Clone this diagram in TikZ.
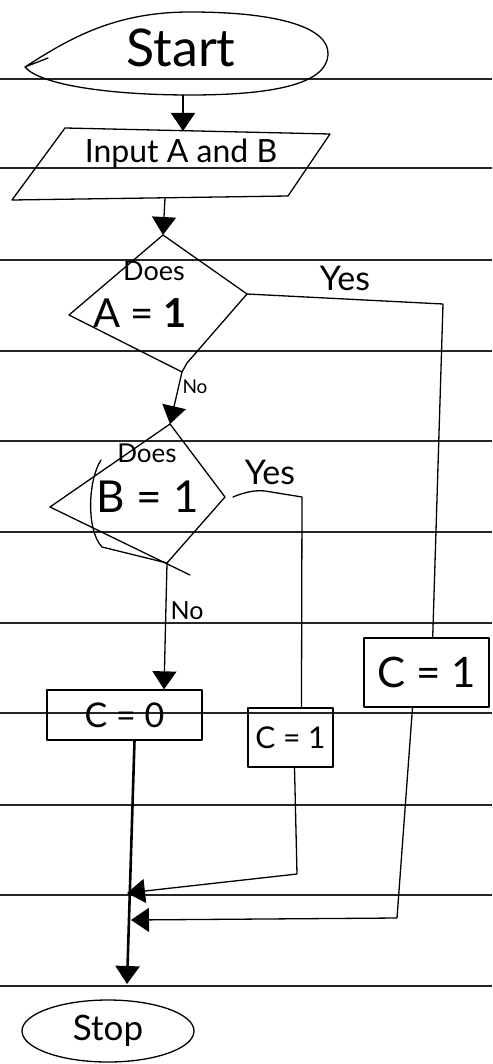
\documentclass[tikz,border=0pt]{standalone}
\usepackage{fontspec}
\setmainfont{Lato}
\usetikzlibrary{arrows.meta,shapes.geometric}
\begin{document}
\begin{tikzpicture}[x=1pt,y=-1pt,
  ink/.style={line width=1.3pt, line join=round, line cap=round, draw=black},
  paper/.style={line width=1.1pt, draw=black!85},
  arr/.style={ink, -{Triangle[length=18pt,width=24pt]}},
  lbl/.style={inner sep=0pt, font=\fontsize{#1}{#1}\selectfont},
  box/.style={ink, rectangle, inner sep=0pt},
]
\fill[white] (0,0) rectangle (492,1064);
\useasboundingbox (0,0) rectangle (492,1064);
% ruled paper
\foreach \yy in {79,168,260,351,441,532,623,713,805,895,986}
  \draw[paper] (0,\yy) -- (492,\yy);

% shape vertices
\coordinate (st-tip) at (25,67);
\coordinate (st-s) at (183,95);
\coordinate (in-tl) at (65,128);
\coordinate (in-tr) at (330,134);
\coordinate (in-br) at (288,196);
\coordinate (in-bl) at (12,200);
\coordinate (in-n) at (183,131);
\coordinate (in-s) at (165,198);
\coordinate (da-t) at (163,235);
\coordinate (da-r) at (247,294);
\coordinate (da-b) at (182,372);
\coordinate (da-l) at (69,315);
\coordinate (db-t) at (170,424);
\coordinate (db-r) at (225,497);
\coordinate (db-b) at (167,563);
\coordinate (db-l) at (50,507);
\coordinate (db-y) at (233,497);
\coordinate (m1) at (127,893);
\coordinate (m2) at (131,920);
\coordinate (j3) at (127,984);

% Start (hand-drawn terminal)
\draw[ink] (st-tip) .. controls (70,38) and (115,12) .. (190,12)
  .. controls (280,12) and (330,28) .. (328,55)
  .. controls (326,85) and (270,95) .. (190,95)
  .. controls (110,95) and (40,85) .. (st-tip) -- (48,58);
\node[lbl=52] (t-start) at (181,48) {Start};

% Input parallelogram
\draw[ink] (in-tl) -- (in-tr) -- (in-br) -- (in-bl) -- cycle;
\node[lbl=32] (t-input) at (181,153) {Input A and B};

% Decision A
\draw[ink] (da-t) -- (da-r) -- (187,363) -- (da-b) -- (da-l) -- cycle;
\node[lbl=27] (t-doesA) at (154,271) {Does};
\node[lbl=40] (t-eqA) at (140,313) {A = \textbf{1}};

% Decision B
\draw[ink] (db-l) -- (db-t) -- (db-r) -- (db-b);
\draw[ink] (db-l) -- (190,575);
\draw[ink] (101,460) .. controls (88,480) and (86,530) .. (102,547) -- (db-b);
\node[lbl=26] (t-doesB) at (147,453) {Does};
\node[lbl=44] (t-eqB) at (148,497) {B = 1};

% process boxes and terminal
\node[box, draw, lbl=34, minimum width=155pt, minimum height=50pt] (c0) at (124.5,715) {C = 0};
\node[box, draw, lbl=30, minimum width=85pt, minimum height=59pt] (c1b) at (290.5,737.5) {C = 1};
\node[box, draw, lbl=42, minimum width=125pt, minimum height=69pt] (c1a) at (426.5,672.5) {C = 1};
\node[ink, draw, ellipse, lbl=35, minimum width=172pt, minimum height=62pt] (stop) at (108,1031) {Stop};

% connectors
\draw[arr] (st-s) -- (in-n);
\draw[arr] (in-s) -- (da-t);
\draw[arr] (da-b) -- (db-t);
\node[lbl=19] (noA) at (195,387) {No};
\draw[ink] (da-r) -- (443,304) -- (c1a.80);
\node[lbl=34] (yesA) at (345,278) {Yes};
\draw[ink] (db-y) .. controls (245,492) and (255,490) .. (265,491) -- (302,497) -- (c1b.70);
\node[lbl=34] (yesB) at (270,472) {Yes};
\draw[arr] (db-b) -- (c0.33);
\node[lbl=25] (noB) at (187,611) {No};
\draw[arr, line width=2.6pt] ([xshift=10pt]c0.south) -- (j3);
\draw[arr] ([xshift=4pt]c1b.south) -- (297,874) -- (m1);
\draw[arr] ([xshift=-14pt]c1a.south) -- (397,918) -- (m2);
\end{tikzpicture}
\end{document}
